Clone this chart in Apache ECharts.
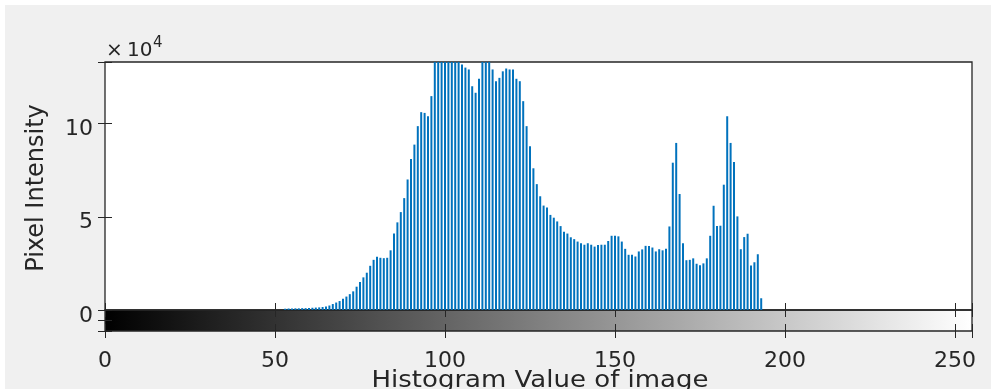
<!DOCTYPE html>
<html><head><meta charset="utf-8">
<script src="https://cdn.jsdelivr.net/npm/echarts@6/dist/echarts.min.js"></script>
<style>html,body{margin:0;padding:0;background:#fff}#c{width:996px;height:389px}</style>
</head><body><div id="c"></div>
<script>
// ---- data ----
const xTitle = 'Histogram Value of image';
const yTitle = 'Pixel Intensity';
const yScaleTimes = '\u00d7';
const yScaleBase = '10';
const yScaleExp = '4';
const xTickValues = [0, 50, 100, 150, 200, 250];
const yTickValues = [0, 50000, 100000];
const grayMin = 0, grayMax = 255;
const yMax = 133000;
// pixel counts per gray level 0..255
const counts = [
0,0,0,0,0,0,0,0,0,0,
0,0,0,0,0,0,0,0,0,0,
0,0,0,0,0,0,0,0,0,0,
0,0,0,0,0,0,0,0,0,0,
0,0,0,0,0,0,0,0,0,0,
0,0,0,700,800,800,900,900,1000,1000,
1100,1200,1300,1400,1600,1900,2400,3200,4000,4800,
6000,7200,8500,10000,12500,15000,17500,20000,23700,26900,
28500,28000,27800,28000,32000,41000,47000,52500,60000,70000,
81000,88700,98600,106100,105700,103900,114700,135500,134800,136200,
135000,134500,135800,134900,134200,131700,130000,129000,120000,116500,
124000,135000,135600,134300,129000,122700,124500,128000,129500,129000,
129000,124000,122700,112000,98600,87800,76000,67500,61000,56000,
55000,51000,49500,47500,45000,42000,41000,39000,38000,36700,
35800,35000,35800,35000,34000,34900,35000,35000,37000,39800,
39800,39500,36700,32800,29600,29600,28700,31400,32500,34400,
34300,33500,31400,32600,32000,32800,44800,79000,89600,62200,
35800,26700,26900,27700,24800,24000,25000,27700,39800,55900,
45000,45200,67200,103900,89600,79400,50200,32600,39100,40900,
23800,25600,29900,6300,0,0,0,0,0,0,
0,0,0,0,0,0,0,0,0,0,
0,0,0,0,0,0,0,0,0,0,
0,0,0,0,0,0,0,0,0,0,
0,0,0,0,0,0,0,0,0,0,
0,0,0,0,0,0,0,0,0,0,
0,0,0,0,0,0
];

// ---- chart ----
const chart = echarts.init(document.getElementById('c'), null, {renderer: 'canvas'});
const FONT = 'DejaVu Sans';
const INK = '#262626';
const L = 105, T = 62, W = 867, H = 248, CBH = 21;
const tickStyle = (len) => ({show: true, inside: true, length: len, lineStyle: {color: INK, width: 1}});
const xAx = (grid, pos, labels) => ({
  gridIndex: grid, type: 'value', min: grayMin, max: grayMax, interval: 50, position: pos,
  axisLine: {show: false}, axisTick: tickStyle(7), splitLine: {show: false},
  axisLabel: labels ? {show: true, margin: 19, fontFamily: FONT, fontSize: 22, lineHeight: 22, color: INK,
    showMinLabel: true, showMaxLabel: true, customValues: xTickValues} : {show: false}
});
const option = {
  animation: false,
  backgroundColor: '#fff',
  graphic: [
    {type: 'rect', z: -100, silent: true, shape: {x: 5, y: 5, width: 986, height: 384}, style: {fill: '#f0f0f0'}},
    {type: 'text', z: 100, x: 540, y: 381, scaleX: 1.13,
      style: {text: xTitle, fontFamily: FONT, fontSize: 23, fill: INK, align: 'center', verticalAlign: 'middle'}},
    {type: 'text', z: 100, x: 37, y: 188, rotation: Math.PI / 2,
      style: {text: yTitle, fontFamily: FONT, fontSize: 24, fill: INK, align: 'center', verticalAlign: 'middle'}},
    {type: 'text', z: 100, x: 106, y: 51,
      style: {text: yScaleTimes, fontFamily: FONT, fontSize: 20, fill: INK, align: 'left', verticalAlign: 'middle'}},
    {type: 'text', z: 100, x: 127, y: 51,
      style: {text: yScaleBase, fontFamily: FONT, fontSize: 20, fill: INK, align: 'left', verticalAlign: 'middle'}},
    {type: 'text', z: 100, x: 153, y: 43,
      style: {text: yScaleExp, fontFamily: FONT, fontSize: 15, fill: INK, align: 'left', verticalAlign: 'middle'}}
  ],
  grid: [
    {left: L, top: T, width: W, height: H, show: true, backgroundColor: '#fff', borderColor: INK, borderWidth: 1.3, containLabel: false, outerBoundsMode: 'none'},
    {left: L, top: T + H, width: W, height: CBH, show: true, backgroundColor: 'transparent', borderColor: INK, borderWidth: 1.3, containLabel: false, outerBoundsMode: 'none'}
  ],
  xAxis: [xAx(0, 'bottom', false), xAx(0, 'top', false), xAx(1, 'bottom', true), xAx(1, 'top', false)],
  yAxis: [
    {gridIndex: 0, type: 'value', min: 0, max: yMax, interval: 50000, position: 'left',
      axisLine: {show: false}, axisTick: tickStyle(7), splitLine: {show: false},
      axisLabel: {show: true, margin: 12, verticalAlign: 'top', lineHeight: 12, fontFamily: FONT, fontSize: 22, color: INK,
        customValues: yTickValues, formatter: v => String(v / 10000)}},
    {gridIndex: 0, type: 'value', min: 0, max: yMax, interval: 50000, position: 'right',
      axisLine: {show: false}, axisTick: tickStyle(7), splitLine: {show: false}, axisLabel: {show: false}},
    {gridIndex: 1, type: 'value', min: 0, max: 1, interval: 0.5, position: 'left',
      axisLine: {show: false}, axisTick: tickStyle(7), splitLine: {show: false}, axisLabel: {show: false}},
    {gridIndex: 1, type: 'value', min: 0, max: 1, interval: 0.5, position: 'right',
      axisLine: {show: false}, axisTick: tickStyle(7), splitLine: {show: false}, axisLabel: {show: false}}
  ],
  series: [
    {type: 'bar', xAxisIndex: 0, yAxisIndex: 0, silent: true, clip: true,
      data: counts.map((v, i) => [i, v]), barWidth: 2, itemStyle: {color: '#0072BD'}},
    {type: 'custom', xAxisIndex: 2, yAxisIndex: 2, silent: true, z: -1,
      data: [[grayMin, grayMax]],
      renderItem: function (params, api) {
        const p0 = api.coord([api.value(0), 1]);
        const p1 = api.coord([api.value(1), 0]);
        return {type: 'rect', shape: {x: p0[0], y: p0[1], width: p1[0] - p0[0], height: p1[1] - p0[1]},
          style: {fill: new echarts.graphic.LinearGradient(0, 0, 1, 0, [{offset: 0, color: '#000'}, {offset: 1, color: '#fff'}])}};
      }}
  ]
};
chart.setOption(option);
</script></body></html>
